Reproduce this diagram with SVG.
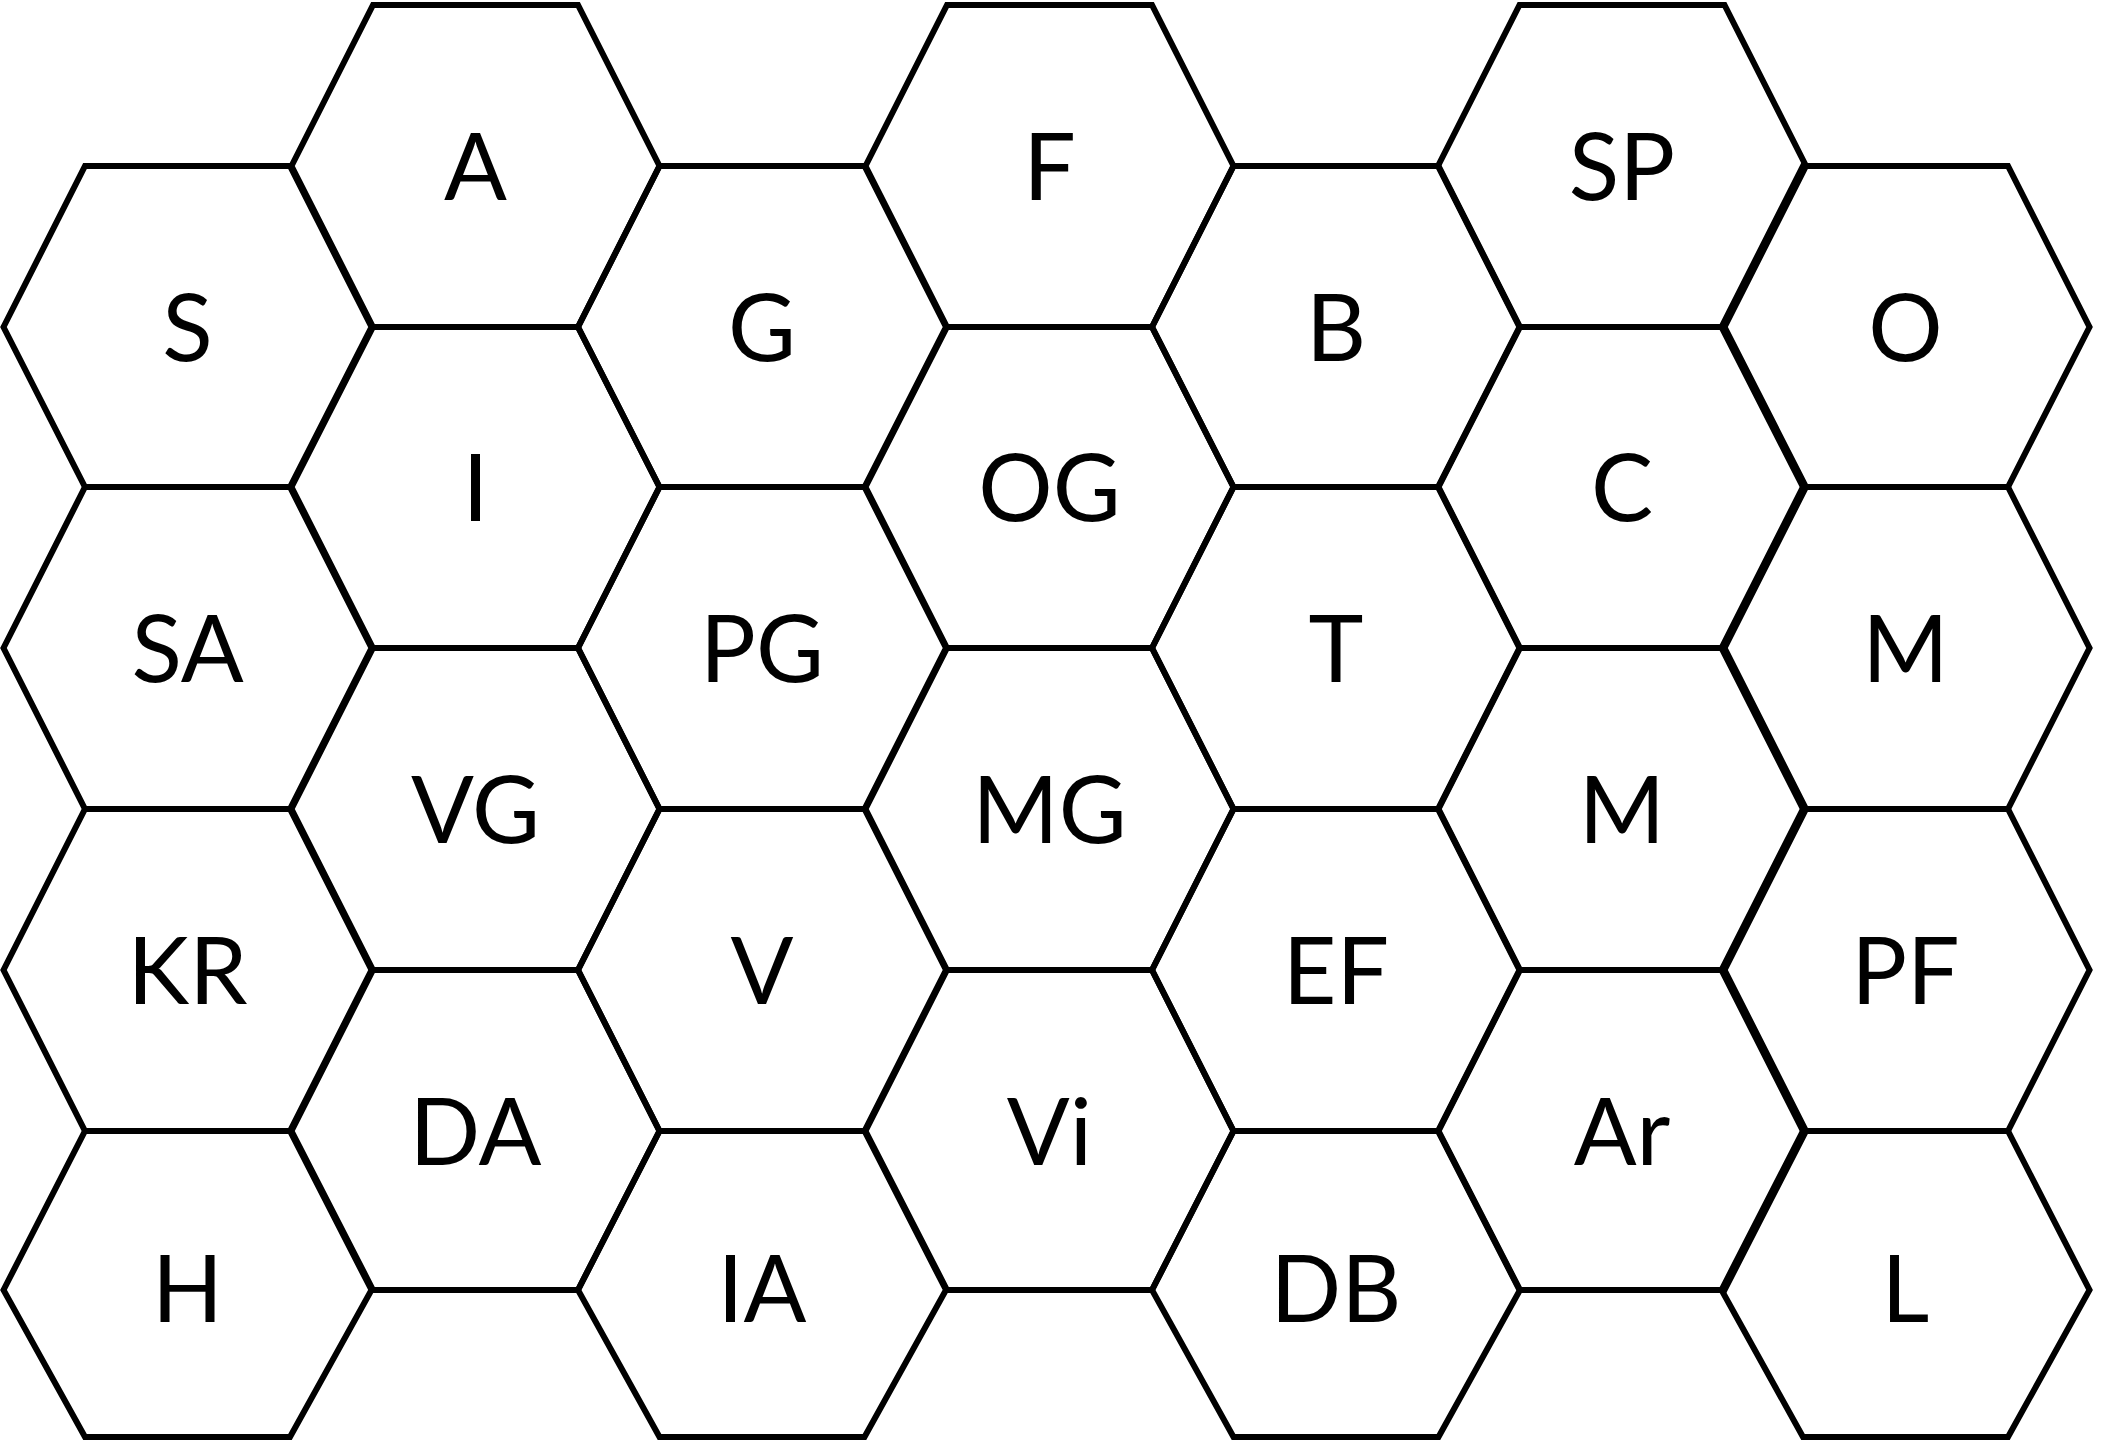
<svg xmlns="http://www.w3.org/2000/svg" width="2104" height="1440" viewBox="0 0 2104 1440">
<style>
.hex{fill:none;stroke:#000;stroke-width:6;stroke-linejoin:miter}
.lbl{font-family:Lato,"Liberation Sans",sans-serif;font-size:93px;fill:#000;text-anchor:middle}
</style>
<rect x="0" y="0" width="2104" height="1440" fill="#fff"/>
<g id="col0">
<g id="S"><polygon class="hex" points="3.5,327 85,166 290,166 371.5,327 290,487 85,487"/><text class="lbl" x="187.5" y="361">S</text></g>
<g id="SA"><polygon class="hex" points="3.5,648 85,487 290,487 371.5,648 290,809 85,809"/><text class="lbl" x="187.5" y="682">SA</text></g>
<g id="KR"><polygon class="hex" points="3.5,970 85,809 290,809 371.5,970 290,1131 85,1131"/><text class="lbl" x="187.5" y="1004">KR</text></g>
<g id="H"><polygon class="hex" points="3.5,1290 85,1131 290,1131 371.5,1290 290,1437 85,1437"/><text class="lbl" x="187.5" y="1322">H</text></g>
</g>
<g id="col1">
<g id="A"><polygon class="hex" points="291.5,166 373,5 578,5 659.5,166 578,327 373,327"/><text class="lbl" x="475.5" y="200">A</text></g>
<g id="I"><polygon class="hex" points="291.5,487 373,327 578,327 659.5,487 578,648 373,648"/><text class="lbl" x="475.5" y="521">I</text></g>
<g id="VG"><polygon class="hex" points="291.5,809 373,648 578,648 659.5,809 578,970 373,970"/><text class="lbl" x="475.5" y="843">VG</text></g>
<g id="DA"><polygon class="hex" points="291.5,1131 373,970 578,970 659.5,1131 578,1290 373,1290"/><text class="lbl" x="475.5" y="1165">DA</text></g>
</g>
<g id="col2">
<g id="G"><polygon class="hex" points="578,327 659.5,166 864.5,166 946,327 864.5,487 659.5,487"/><text class="lbl" x="762" y="361">G</text></g>
<g id="PG"><polygon class="hex" points="578,648 659.5,487 864.5,487 946,648 864.5,809 659.5,809"/><text class="lbl" x="762" y="682">PG</text></g>
<g id="V"><polygon class="hex" points="578,970 659.5,809 864.5,809 946,970 864.5,1131 659.5,1131"/><text class="lbl" x="762" y="1004">V</text></g>
<g id="IA"><polygon class="hex" points="578,1290 659.5,1131 864.5,1131 946,1290 864.5,1437 659.5,1437"/><text class="lbl" x="762" y="1322">IA</text></g>
</g>
<g id="col3">
<g id="F"><polygon class="hex" points="865.5,166 947,5 1152,5 1233.5,166 1152,327 947,327"/><text class="lbl" x="1049.5" y="200">F</text></g>
<g id="OG"><polygon class="hex" points="865.5,487 947,327 1152,327 1233.5,487 1152,648 947,648"/><text class="lbl" x="1049.5" y="521">OG</text></g>
<g id="MG"><polygon class="hex" points="865.5,809 947,648 1152,648 1233.5,809 1152,970 947,970"/><text class="lbl" x="1049.5" y="843">MG</text></g>
<g id="Vi"><polygon class="hex" points="865.5,1131 947,970 1152,970 1233.5,1131 1152,1290 947,1290"/><text class="lbl" x="1049.5" y="1165">Vi</text></g>
</g>
<g id="col4">
<g id="B"><polygon class="hex" points="1152,327 1233.5,166 1438.5,166 1520,327 1438.5,487 1233.5,487"/><text class="lbl" x="1336" y="361">B</text></g>
<g id="T"><polygon class="hex" points="1152,648 1233.5,487 1438.5,487 1520,648 1438.5,809 1233.5,809"/><text class="lbl" x="1336" y="682">T</text></g>
<g id="EF"><polygon class="hex" points="1152,970 1233.5,809 1438.5,809 1520,970 1438.5,1131 1233.5,1131"/><text class="lbl" x="1336" y="1004">EF</text></g>
<g id="DB"><polygon class="hex" points="1152,1290 1233.5,1131 1438.5,1131 1520,1290 1438.5,1437 1233.5,1437"/><text class="lbl" x="1336" y="1322">DB</text></g>
</g>
<g id="col5">
<g id="SP"><polygon class="hex" points="1438,166 1519.5,5 1724.5,5 1806,166 1724.5,327 1519.5,327"/><text class="lbl" x="1622" y="200">SP</text></g>
<g id="C"><polygon class="hex" points="1438,487 1519.5,327 1724.5,327 1806,487 1724.5,648 1519.5,648"/><text class="lbl" x="1622" y="521">C</text></g>
<g id="M1"><polygon class="hex" points="1438,809 1519.5,648 1724.5,648 1806,809 1724.5,970 1519.5,970"/><text class="lbl" x="1622" y="843">M</text></g>
<g id="Ar"><polygon class="hex" points="1438,1131 1519.5,970 1724.5,970 1806,1131 1724.5,1290 1519.5,1290"/><text class="lbl" x="1622" y="1165">Ar</text></g>
</g>
<g id="col6">
<g id="O"><polygon class="hex" points="1721.5,327 1803,166 2008,166 2089.5,327 2008,487 1803,487"/><text class="lbl" x="1905.5" y="361">O</text></g>
<g id="M2"><polygon class="hex" points="1721.5,648 1803,487 2008,487 2089.5,648 2008,809 1803,809"/><text class="lbl" x="1905.5" y="682">M</text></g>
<g id="PF"><polygon class="hex" points="1721.5,970 1803,809 2008,809 2089.5,970 2008,1131 1803,1131"/><text class="lbl" x="1905.5" y="1004">PF</text></g>
<g id="L"><polygon class="hex" points="1721.5,1290 1803,1131 2008,1131 2089.5,1290 2008,1437 1803,1437"/><text class="lbl" x="1905.5" y="1322">L</text></g>
</g>
<g id="connectors"></g>
</svg>
